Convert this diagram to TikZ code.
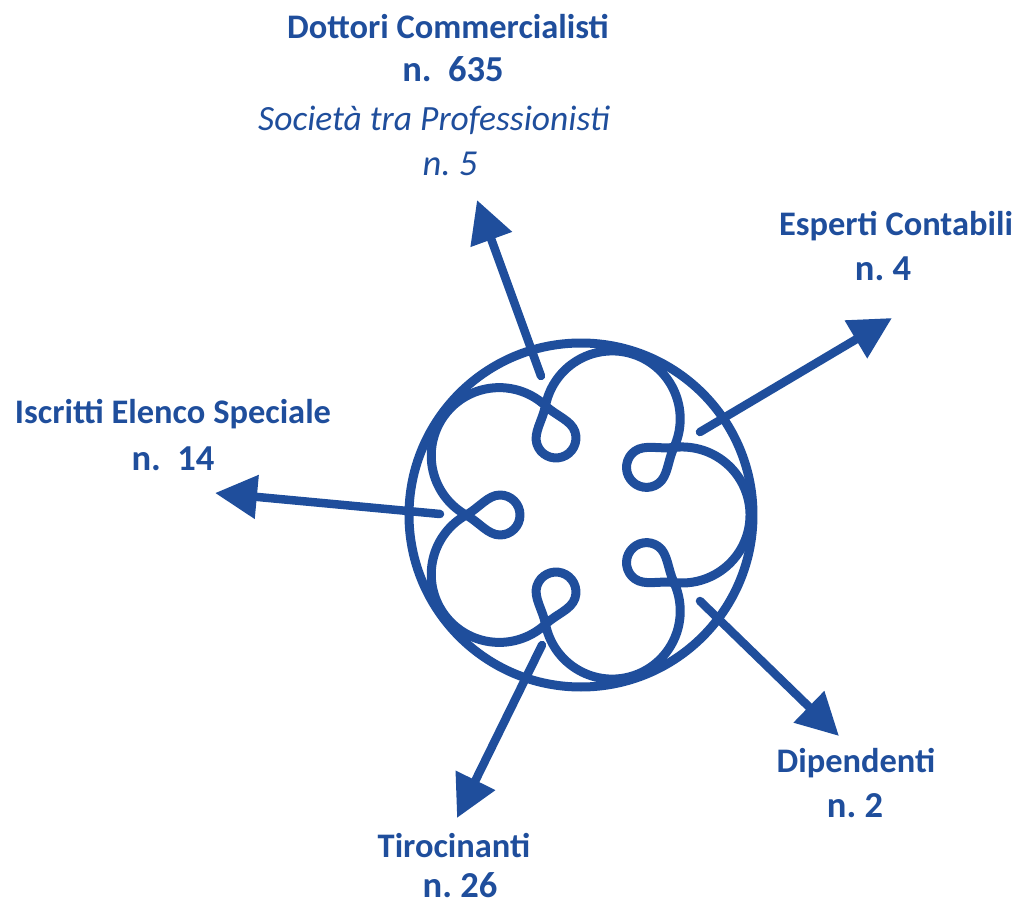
\documentclass[tikz,border=0pt]{standalone}
\usepackage{fontspec}
\setmainfont{Carlito}
\usetikzlibrary{arrows.meta}
\definecolor{logoblue}{HTML}{1F4E9C}
\tikzstyle{logo line}=[draw=logoblue, line width=0.09cm, line join=round, line cap=round]
\tikzstyle{pointer}=[draw=logoblue, line width=0.085cm, line cap=round, -{Triangle[length=0.42cm, width=0.42cm]}]
\tikzstyle{category}=[text=logoblue, anchor=base, inner sep=0pt, font=\fontsize{9.8}{11}\selectfont\bfseries\frenchspacing]
\tikzstyle{category count}=[category, font=\fontsize{10.4}{12}\selectfont\bfseries\frenchspacing]
\tikzstyle{company}=[category, font=\fontsize{10.1}{12}\selectfont\itshape\frenchspacing]

\begin{document}
\begin{tikzpicture}
  \useasboundingbox (-5.81, -3.88) rectangle (4.40, 5.15);
  % logo: ring and five looped arcs
  \draw[logo line] (0, 0) circle[radius=1.72];
  \draw[logo line] (-36:1.148)
    \foreach \k in {0,...,4} {
      arc[start angle=72*\k-96.9, end angle=72*\k+96.9, radius=0.68]
      .. controls +({72*\k+186.9}:0.15) and +({72*\k+36}:0.12) .. ({72*\k+49.87}:0.8343)
      arc[start angle=72*\k+126, end angle=72*\k+306, radius=0.20]
      .. controls +({72*\k+36}:0.12) and +({72*\k+245.1}:0.15) .. ({72*\k+36}:1.148)
    };
  \coordinate (dottori tail) at (-0.40, 1.39);
  \coordinate (dottori tip) at (-1.04, 3.15);
  \coordinate (esperti tail) at (1.19, 0.83);
  \coordinate (esperti tip) at (3.11, 1.97);
  \coordinate (dipendenti tail) at (1.19, -0.86);
  \coordinate (dipendenti tip) at (2.58, -2.21);
  \coordinate (tirocinanti tail) at (-0.39, -1.30);
  \coordinate (tirocinanti tip) at (-1.24, -3.03);
  \coordinate (iscritti tail) at (-1.41, 0.01);
  \coordinate (iscritti tip) at (-3.66, 0.22);
  \node[category] (dottori) at (-1.33, 4.77) {Dottori Commercialisti};
  \node[category count] (dottori n) at (-1.28, 4.33) {n.\ \ 635};
  \node[company] (stp) at (-1.47, 3.85) {Società tra Professionisti};
  \node[company, font=\fontsize{10.4}{12}\selectfont\itshape\frenchspacing] (stp n) at (-1.31, 3.40) {n. 5};
  \node[category] (esperti) at (3.15, 2.80) {Esperti Contabili};
  \node[category count] (esperti n) at (3.02, 2.35) {n. 4};
  \node[category] (iscritti) at (-4.08, 0.92) {Iscritti Elenco Speciale};
  \node[category count] (iscritti n) at (-4.08, 0.45) {n.\ \ 14};
  \node[category] (dipendenti) at (2.75, -2.57) {Dipendenti};
  \node[category count] (dipendenti n) at (2.74, -3.02) {n. 2};
  \node[category] (tirocinanti) at (-1.27, -3.42) {Tirocinanti};
  \node[category count] (tirocinanti n) at (-1.21, -3.82) {n. 26};
  \draw[pointer] (dottori tail) to (dottori tip);
  \draw[pointer] (esperti tail) to (esperti tip);
  \draw[pointer] (dipendenti tail) to (dipendenti tip);
  \draw[pointer] (tirocinanti tail) to (tirocinanti tip);
  \draw[pointer] (iscritti tail) to (iscritti tip);
\end{tikzpicture}
\end{document}
